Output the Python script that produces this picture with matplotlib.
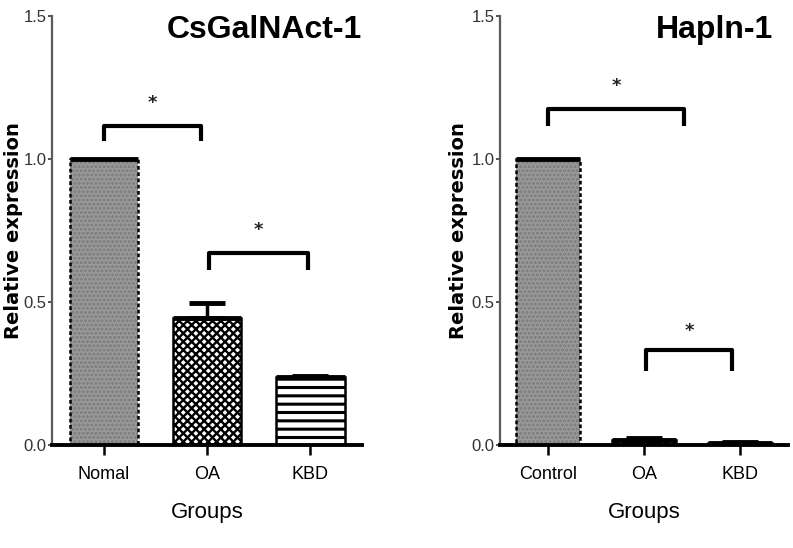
import matplotlib
matplotlib.use('Agg')
import matplotlib.pyplot as plt
import numpy as np

# ---------------- data ----------------
left_groups = ['Nomal', 'OA', 'KBD']
left_values = [1.0, 0.445, 0.237]
left_errors = [0.0, 0.05, 0.004]
left_title = 'CsGalNAct-1'

right_groups = ['Control', 'OA', 'KBD']
right_values = [1.0, 0.018, 0.008]
right_errors = [0.0, 0.006, 0.004]
right_title = 'Hapln-1'

y_ticks = [0.0, 0.5, 1.0, 1.5]
y_tick_labels = ['0.0', '0.5', '1.0', '1.5']
y_label = 'Relative expression'
x_label = 'Groups'

# significance brackets: (x start, x end, bracket y, drop y, star y)
left_sig = [(0.0, 0.94, 1.115, 1.063, 1.195), (1.02, 1.98, 0.672, 0.61, 0.75)]
right_sig = [(0.0, 1.42, 1.174, 1.115, 1.254), (1.02, 1.92, 0.331, 0.26, 0.40)]

# bar styles: (face, hatch, hatch colour, hatch linewidth)
styles = [('#9a9a9a', '....', '#7a7a7a', 1.5),
          ('white', 'xxxx', 'black', 1.7),
          ('white', '--', 'black', 2.2)]

narrow = ['Liberation Sans Narrow', 'Liberation Sans', 'DejaVu Sans']

fig = plt.figure(figsize=(7.93, 5.48), dpi=100)
ax_l = fig.add_axes([0.0656, 0.188, 0.391, 0.783])
ax_r = fig.add_axes([0.6305, 0.188, 0.363, 0.783])


def draw(ax, groups, values, errors, title, sig, title_x, ylab_x):
    x = np.arange(len(groups))
    w = 0.66
    for i in range(len(groups)):
        face, hatch, hcol, hlw = styles[i]
        with plt.rc_context({'hatch.linewidth': hlw, 'hatch.color': hcol}):
            ax.bar(x[i], values[i], width=w, color=face, hatch=hatch,
                   edgecolor=hcol, linewidth=0, zorder=2)
        ls = (0, (1.5, 1.0)) if i == 0 else '-'
        ax.bar(x[i], values[i], width=w, fill=False, edgecolor='black',
               linewidth=1.8, linestyle=ls, zorder=3)
    ax.hlines(values, x - w / 2, x + w / 2, colors='black', linewidth=3.5,
              zorder=4)
    idx = [i for i in range(len(groups)) if errors[i] > 0]
    ax.errorbar(x[idx], np.array(values)[idx],
                yerr=[np.zeros(len(idx)), np.array(errors)[idx]],
                fmt='none', ecolor='black', elinewidth=2.5, capsize=13,
                capthick=3.5, zorder=5)

    for (x1, x2, yb, yd, ys) in sig:
        ax.plot([x1, x1, x2, x2], [yd, yb, yb, yd], color='black',
                linewidth=3.0, solid_capstyle='butt', zorder=6)
        ax.text((x1 + x2) / 2, ys, '*', ha='center', va='center',
                fontsize=13, fontweight='bold', color='#222222')

    ax.set_xlim(-0.5, 2.5)
    ax.set_ylim(0, 1.5)
    ax.set_xticks(x)
    ax.set_xticklabels(groups, family=narrow, fontsize=13)
    ax.set_yticks(y_ticks)
    ax.set_yticklabels(y_tick_labels, family=narrow, fontsize=12)
    ax.tick_params(axis='x', length=7, width=1.8, pad=8, colors='black')
    ax.tick_params(axis='y', length=3, width=1.2, pad=1, colors='#333333')
    for s in ['top', 'right']:
        ax.spines[s].set_visible(False)
    ax.spines['left'].set_color('#5a5a5a')
    ax.spines['left'].set_linewidth(1.6)
    ax.spines['bottom'].set_color('black')
    ax.spines['bottom'].set_linewidth(2.8)
    ax.set_xlabel(x_label, family=narrow, fontsize=16, labelpad=14)
    ax.set_ylabel(y_label, fontsize=14, fontweight='bold',
                  family='DejaVu Sans')
    ax.yaxis.set_label_coords(ylab_x, 0.5)
    ax.text(title_x, 0.967, title, transform=ax.transAxes, ha='right',
            va='center', fontsize=23, fontweight='bold',
            family='Liberation Sans')


draw(ax_l, left_groups, left_values, left_errors, left_title, left_sig,
     1.0, -0.095)
draw(ax_r, right_groups, right_values, right_errors, right_title, right_sig,
     0.948, -0.112)

fig.savefig('out.png', dpi=100)
